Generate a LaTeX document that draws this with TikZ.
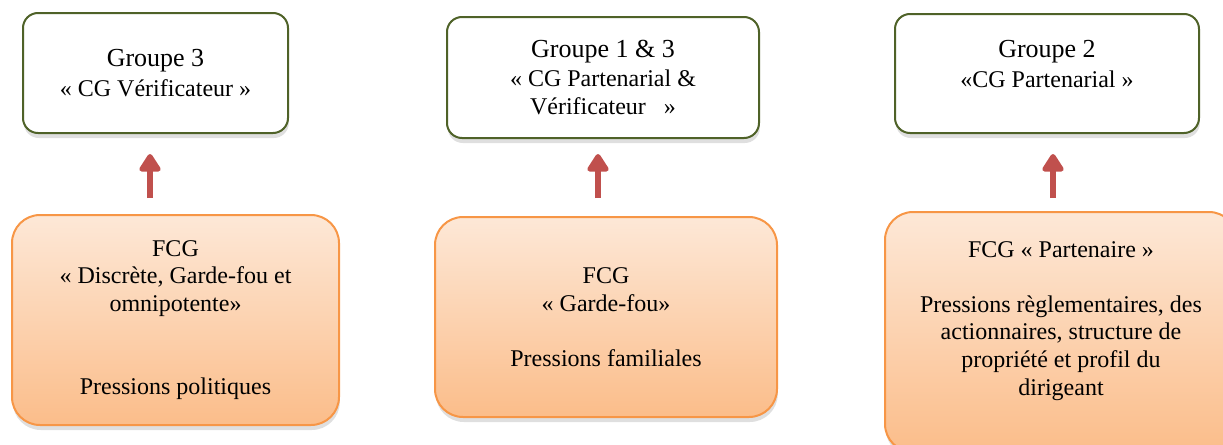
\documentclass[tikz,border=0pt]{standalone}
\usepackage{fontspec}
\setmainfont{Liberation Serif}
\newfontfamily\cgfont{Liberation Serif}
\usepackage{tikz}
\usetikzlibrary{arrows.meta,calc,shadows}
\definecolor{cgolive}{HTML}{4F6228}
\definecolor{cgorange}{HTML}{F79646}
\definecolor{cgpeachtop}{HTML}{FDE8D7}
\definecolor{cgpeachbot}{HTML}{FBBD8A}
\definecolor{cgred}{HTML}{C0504D}
\newcommand\grtitle[1]{{\fontsize{13}{15}\selectfont #1}}

\begin{document}
\begin{tikzpicture}[x=0.5pt,y=-0.5pt,
  font=\cgfont\fontsize{12}{13.8}\selectfont,
  grp/.style={rounded corners=7.5pt,draw=cgolive,fill=white,line width=1pt,
              align=center,inner sep=2pt,
              drop shadow={shadow xshift=0.4pt,shadow yshift=-2.5pt,opacity=0.25}},
  fcg/.style={rounded corners=14pt,draw=cgorange,line width=1pt,
              top color=cgpeachtop,bottom color=cgpeachbot,align=center,inner sep=2pt,
              drop shadow={shadow xshift=0.4pt,shadow yshift=-2.5pt,opacity=0.25}},
  ar/.style={-{Triangle[width=12pt,length=10pt,round]},line width=3pt,cgred}]

\clip (0,0) rectangle (1223,445);

% ---- groups of CG (top) ----
\node[grp,minimum width=132.5pt,minimum height=60pt] (t1) at (155.5,73)
  {\grtitle{Groupe 3}\\[1.5pt]« CG Vérificateur »};
\node[grp,minimum width=156pt,minimum height=60.5pt] (t2) at (603,77.5)
  {\grtitle{Groupe 1 \& 3}\\[1pt]« CG Partenarial \&\\Vérificateur~~~»};
\node[grp,minimum width=152pt,minimum height=59.5pt] (t3) at (1047,73.5)
  {\grtitle{Groupe 2}\\[1.5pt]«CG Partenarial »\\[-4pt]\mbox{}};

% ---- FCG and pressions (bottom) ----
\node[fcg,minimum width=163.5pt,minimum height=105pt] (b1) at (175.5,320)
  {FCG\\« Discrète, Garde-fou et\\omnipotente»\\\mbox{}\\\mbox{}\\Pressions politiques};
\node[fcg,minimum width=171pt,minimum height=100pt] (b2) at (606,317)
  {FCG\\« Garde-fou»\\\mbox{}\\Pressions familiales};
\node[fcg,minimum width=176pt,minimum height=120pt] (b3) at (1061,332)
  {FCG « Partenaire »\\\mbox{}\\Pressions règlementaires, des\\actionnaires, structure de\\propriété et profil du\\dirigeant\\\mbox{}};

% ---- arrows up ----
\draw[ar] ($(b1.north)+(-25.5,-16)$) -- ($(t1.south)+(-5.5,20)$);
\draw[ar] ($(b2.north)+(-8,-18)$) -- ($(t2.south)+(-5,15)$);
\draw[ar] ($(b3.north)+(-8,-13)$) -- ($(t3.south)+(6,20)$);
\end{tikzpicture}
\end{document}
